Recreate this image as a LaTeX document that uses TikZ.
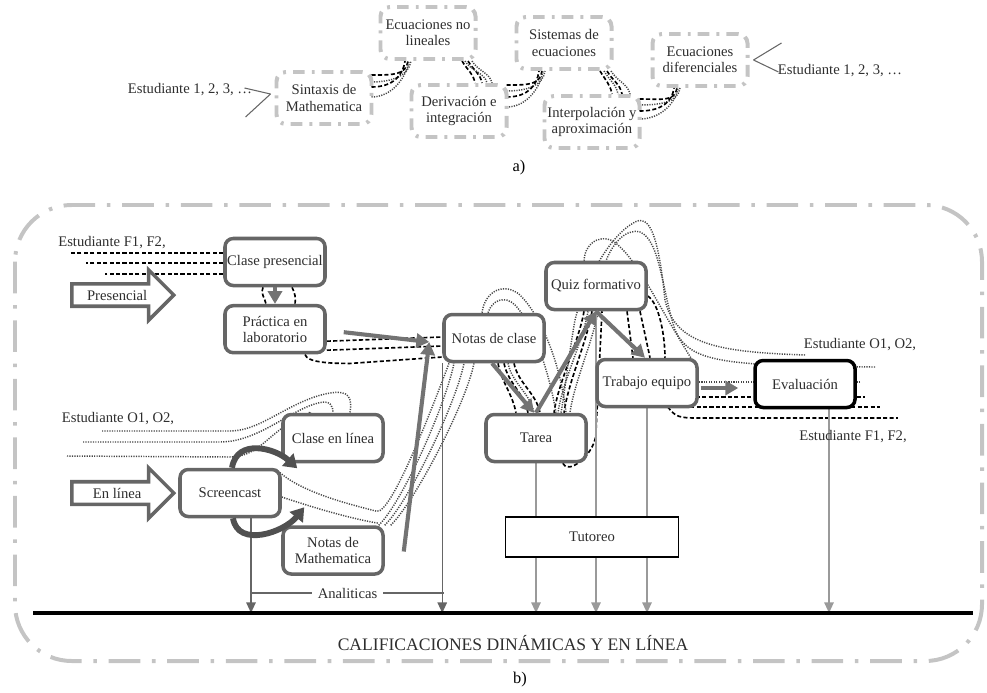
\documentclass[tikz,border=0pt]{standalone}
\usepackage{fontspec}
\setmainfont{Liberation Serif}
\usetikzlibrary{shapes,arrows,arrows.meta,positioning}

\definecolor{boxgray}{HTML}{666666}
\definecolor{framegray}{HTML}{C4C4C4}
\definecolor{txtgray}{HTML}{2E2E2E}
\definecolor{arrgray}{HTML}{737373}
\definecolor{linegray}{HTML}{9A9A9A}
\definecolor{cyclegray}{HTML}{505050}

\pgfdeclarelayer{bg}
\pgfsetlayers{bg,main}

\begin{document}
\begin{tikzpicture}[
    x=0.03cm, y=-0.03cm,
    every node/.style={font=\fontsize{12.5}{14}\selectfont, text=txtgray},
    topic/.style={rounded corners=8pt, draw=framegray, line width=3.4pt, dash pattern=on 10pt off 6pt on 2.5pt off 6pt, minimum width=2.85cm, minimum height=1.56cm, align=center, inner sep=1pt},
    mynode/.style={rounded corners=7pt, draw=boxgray, line width=3pt, fill=white, minimum width=3cm, minimum height=1.41cm, align=center, inner sep=1pt},
    evalnode/.style={mynode, draw=black},
    tutnode/.style={draw=black, line width=1.2pt, fill=white, minimum width=5.19cm, minimum height=1.2cm},
    blockarrow/.style={single arrow, draw=boxgray, line width=3pt, fill=white, minimum height=3.06cm, single arrow head extend=0.42cm, inner ysep=0.13cm, inner xsep=4pt},
    bigframe/.style={draw=framegray, line width=3.4pt, dash pattern=on 27pt off 10pt on 3pt off 10pt, rounded corners=1.7cm},
    flowdash/.style={line width=1.4pt, dash pattern=on 3.5pt off 2pt},
    flowdot/.style={line width=1.25pt, black!72, dash pattern=on 1pt off 1.1pt},
    bigarrow/.style={draw=arrgray, line width=3.5pt, -{Triangle[length=11pt,width=12pt]}},
    cyclearrow/.style={draw=cyclegray, line width=5pt, -{Triangle[length=11pt,width=14pt]}},
    droparrow/.style={line width=1.2pt, -{Triangle[length=9pt,width=8pt]}},
    vtick/.style={draw=boxgray, line width=0.9pt}
]
\useasboundingbox (0,0) rectangle (987,692);

% a) topics
\node[topic] (sint) at (324,98) {Sintaxis de\\Mathematica};
\node[topic] (ecnl) at (428,33) {Ecuaciones no\\lineales};
\node[topic] (deriv) at (459,111) {Derivación e\\integración};
\node[topic] (sist) at (564,43) {Sistemas de\\ecuaciones};
\node[topic] (interp) at (592,122) {Interpolación y\\aproximación};
\node[topic] (ecdif) at (700,60) {Ecuaciones\\diferenciales};
\node (estA) at (190,90) {Estudiante 1, 2, 3, …};
\node (estB) at (840,71) {Estudiante 1, 2, 3, …};
\node[font=\fontsize{14}{16}\selectfont, text=black] (alab) at (519,168) {a)};

\draw[vtick] ([shift={(-4,-4)}]sint.west) -- +(-26,-6);
\draw[vtick] ([shift={(-4,-4)}]sint.west) -- +(-25,23);
\draw[vtick] ([shift={(4,0)}]ecdif.east) -- +(28,-17);
\draw[vtick] ([shift={(4,0)}]ecdif.east) -- +(25,12);

\begin{pgfonlayer}{bg}
\foreach \st/\dy/\dx in {flowdash/-23/-20, flowdot/-16/-17, flowdash/-11/-23, flowdot/-1/-19}
  \draw[\st] ([shift={(-2,\dy)}]sint.east) .. controls +(22,0) and +(-2,14) .. ([shift={(\dx,0)}]ecnl.south);
\foreach \st/\dy/\dx in {flowdash/-26/-22, flowdot/-20/-19, flowdash/-14/-25, flowdot/-4/-21}
  \draw[\st] ([shift={(-2,\dy)}]deriv.east) .. controls +(22,0) and +(-2,14) .. ([shift={(\dx,0)}]sist.south);
\foreach \st/\dy/\dx in {flowdash/-23/-23, flowdot/-17/-20, flowdash/-11/-26, flowdot/-3/-22}
  \draw[\st] ([shift={(-2,\dy)}]interp.east) .. controls +(22,0) and +(-2,14) .. ([shift={(\dx,0)}]ecdif.south);
\foreach \st/\a/\b in {flowdash/34/16, flowdash/40/23, flowdot/44/33, flowdot/37/28}
  \draw[\st] ([shift={(\a,0)}]ecnl.south) .. controls +(6,10) and +(-2,-10) .. ([shift={(\b,0)}]deriv.north);
\foreach \st/\a/\b in {flowdash/36/20, flowdash/43/30, flowdot/40/26, flowdot/47/38}
  \draw[\st] ([shift={(\a,0)}]sist.south) .. controls +(6,10) and +(-2,-10) .. ([shift={(\b,0)}]interp.north);
\end{pgfonlayer}

% b) course flow
\node[mynode] (cp) at (275,262) {Clase presencial};
\node[mynode] (pl) [below=0.5cm of cp] {Práctica en\\laboratorio};
\node[mynode] (nc) at (494,338) {Notas de clase};
\node[mynode] (qf) at (596,286) {Quiz formativo};
\node[mynode] (te) at (647,383) {Trabajo equipo};
\node[mynode] (ta) at (536,438) {Tarea};
\node[evalnode] (ev) at (805,384) {Evaluación};
\node[mynode] (cel) at (333,438) {Clase en línea};
\node[mynode] (scr) at (230,493) {Screencast};
\node[mynode] (nm) [below=1.86cm of cel] {Notas de\\Mathematica};
\node[tutnode] (tut) at (592,537) {Tutoreo};

\node[blockarrow, anchor=tail] (pres) at (70,295) {Presencial};
\node[blockarrow, anchor=tail] (enl) at (70,493) {En línea};

\node (estF) at (112,243) {Estudiante F1, F2,};
\node (estO) at (118,419) {Estudiante O1, O2,};
\node (estO2) at (860,345) {Estudiante O1, O2,};
\node (estF2) at (853,437) {Estudiante F1, F2,};

\node[font=\fontsize{15}{17}\selectfont] (calif) at (513,643) {CALIFICACIONES DINÁMICAS Y EN LÍNEA};
\node[font=\fontsize{14}{16}\selectfont, text=black] (blab) at (520,680) {b)};

\coordinate (base) at (0,613);
\coordinate (anL) at (251,593);
\coordinate (anR) at (444,593);
\coordinate (rO1) at (805,355);
\coordinate (rO2) at (875,367);
\coordinate (rO3) at (860,382);
\coordinate (lO1) at (102,431);
\coordinate (lO2) at (83,442);
\coordinate (lO3) at (67,456);

\begin{pgfonlayer}{bg}
\draw[bigframe] (15,205) rectangle (982,661);

% presencial students
\foreach \dy/\len in {-9/153, 1/137, 12/118}
  \draw[flowdash] ([shift={(0,\dy)}]cp.west) -- +(-\len,0);
\draw[flowdash] ([shift={(-12,0)}]cp.south) .. controls +(-3,6) and +(-1,-6) .. ([shift={(-9,0)}]pl.north);
\draw[flowdash] ([shift={(17,0)}]cp.south) .. controls +(3,6) and +(1,-6) .. ([shift={(20,0)}]pl.north);
\draw[flowdash] ([shift={(0,12)}]pl.east) -- ([shift={(0,-1)}]nc.west);
\draw[flowdash] ([shift={(0,21)}]pl.east) -- ([shift={(0,8)}]nc.west);
\draw[flowdash] ([shift={(30,0)}]pl.south) .. controls +(2,8) and +(-20,0) .. +(45,9) -- ([shift={(0,19)}]nc.west);

\foreach \st/\a/\b in {flowdash/4/-20, flowdash/10/-8, flowdot/14/-2, flowdash/20/4}
  \draw[\st] ([shift={(\a,0)}]nc.south) .. controls +(4,20) and +(-4,-20) .. ([shift={(\b,0)}]ta.north);
\draw[flowdash] ([shift={(-25,0)}]ta.south east) .. controls +(5,12) and +(-3,20) .. ([shift={(8,-2)}]ta.east) -- ([shift={(6,0)}]qf.south);
\foreach \st/\a/\b in {flowdash/-12/18, flowdash/-4/28, flowdot/-8/22, flowdot/2/34}
  \draw[\st] ([shift={(\a,0)}]qf.south) .. controls +(-5,30) and +(4,-30) .. ([shift={(\b,0)}]ta.north);
\draw[flowdash] ([shift={(31,0)}]qf.south) -- ([shift={(-14,0)}]te.north);
\draw[flowdash] ([shift={(44,0)}]qf.south) -- ([shift={(3,0)}]te.north);
\draw[flowdash] ([shift={(0,10)}]qf.east) .. controls +(12,8) and +(0,-20) .. ([shift={(18,0)}]te.north);
\draw[flowdash] ([shift={(-16,14)}]te.east) -- ([shift={(8,13)}]ev.east);
\draw[flowdash] ([shift={(-28,24)}]te.east) -- ([shift={(23,23)}]ev.east);
\draw[flowdash] ([shift={(-31,24)}]te.east) .. controls +(8,10) and +(-20,0) .. ([shift={(0,35)}]te.east) -- ([shift={(41,34)}]ev.east);

% online students
\draw[flowdot] (lO1) -- (230,431) .. controls (262,431) and (290,400) .. (330,393) .. controls (350,390) and (352,398) .. ([shift={(17,0)}]cel.north);
\draw[flowdot] (lO2) -- (220,442) .. controls (258,442) and (290,410) .. (318,403) .. controls (330,400) and (333,405) .. (cel.north);
\draw[flowdot] (lO3) -- (230,457) .. controls (260,457) and (270,430) .. (300,418) .. controls (310,414) and (315,412) .. ([shift={(-25,0)}]cel.north);
\draw[flowdot] ([shift={(-5,6)}]cel.south west) .. controls +(20,20) and +(-40,-10) .. ([shift={(-8,-14)}]nm.north east) .. controls +(15,3) and +(-15,40) .. ([shift={(-45,0)}]nc.south);
\draw[flowdot] ([shift={(0,4)}]scr.east) .. controls +(30,10) and +(-30,-5) .. ([shift={(-6,-2)}]nm.north east);
\foreach \a/\b in {-6/-40, 0/-30, 6/-20}
  \draw[flowdot] ([shift={(\a,0)}]nm.north east) .. controls +(25,-25) and +(-8,40) .. ([shift={(\b,0)}]nc.south);
\draw[flowdot] ([shift={(-12,0)}]nc.north) .. controls (485,290) and (505,282) .. (520,295) .. controls (540,315) and (560,360) .. ([shift={(30,0)}]ta.north);
\draw[flowdot] ([shift={(-6,0)}]nc.north) .. controls (492,300) and (505,295) .. (515,305) .. controls (530,320) and (548,365) .. ([shift={(20,0)}]ta.north);
\draw[flowdot] (rO1) .. controls (720,352) and (675,345) .. (665,300) .. controls (658,230) and (648,215) .. (635,222) .. controls (610,235) and (585,280) .. (575,320) .. controls (568,360) and (565,390) .. ([shift={(25,0)}]ta.north);
\draw[flowdot] (rO2) .. controls (720,366) and (690,362) .. (675,330) .. controls (662,290) and (660,240) .. (640,232) .. controls (625,228) and (612,245) .. ([shift={(10,0)}]qf.north);
\draw[flowdot] ([shift={(-12,0)}]qf.north) .. controls (585,240) and (605,232) .. (618,245) .. controls (640,265) and (655,300) .. ([shift={(-8,0)}]te.north east);
\draw[flowdot] (rO3) -- ([shift={(0,-1)}]te.east);

% grades
\draw[droparrow, draw=boxgray, fill=boxgray] ([shift={(21,0)}]scr.south) -- ([shift={(21,0)}]scr.south |- base);
\draw[droparrow, draw=boxgray, fill=boxgray] (nc.south west) -- (nc.south west |- base);
\draw[draw=boxgray, line width=1pt] (anL) -- node[fill=white, inner xsep=5pt] {Analiticas} (anR);
\draw[droparrow, draw=linegray, fill=linegray] (ta.south) -- (ta.south |- base);
\draw[droparrow, draw=linegray, fill=linegray] (qf.south) -- (qf.south |- base);
\draw[droparrow, draw=linegray, fill=linegray] (te.south) -- (te.south |- base);
\draw[droparrow, draw=linegray, fill=linegray] ([shift={(24,0)}]ev.south) -- ([shift={(24,0)}]ev.south |- base);
\end{pgfonlayer}

\draw[line width=3.5pt] (33,613) -- (973,613);

\coordinate (ncin) at ([shift={(-13,4)}]nc.west);
\draw[bigarrow] (cp) -- (pl);
\draw[bigarrow] ([shift={(17,3)}]pl.east) -- (ncin);
\draw[bigarrow] ([shift={(19,1)}]nm.east) -- (ncin);
\draw[bigarrow] ([shift={(-2,0)}]nc.south) -- ([shift={(-2,0)}]ta.north);
\draw[bigarrow] (ta.north) -- (qf.south);
\draw[bigarrow] (qf.south) -- ([shift={(-2,0)}]te.north);
\draw[bigarrow] ([shift={(2,5)}]te.east) -- ([shift={(-15,4)}]ev.west);

\draw[cyclearrow] ([shift={(2,0)}]scr.north) .. controls +(5,-30) and +(-22,-20) .. ([shift={(16,5)}]cel.south west);
\draw[cyclearrow] ([shift={(3,0)}]scr.south) .. controls +(5,30) and +(-20,25) .. ([shift={(23,-18)}]nm.north west);
\end{tikzpicture}
\end{document}
